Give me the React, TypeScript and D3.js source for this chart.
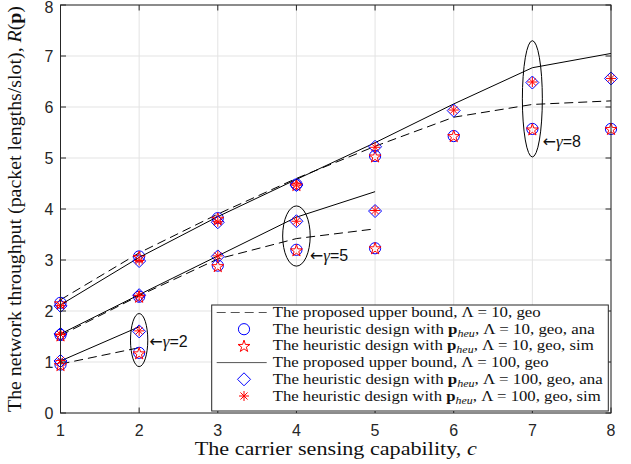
import React from "react";
import * as d3 from "d3";

// ---- data ----
const xTicks = [1, 2, 3, 4, 5, 6, 7, 8];
const yTicks = [0, 1, 2, 3, 4, 5, 6, 7, 8];

const cG2 = [1, 2];
const cG5 = [1, 2, 3, 4, 5];
const cG8 = [1, 2, 3, 4, 5, 6, 7, 8];

// Lambda = 10 (dashed bound, circle = ana, star = sim)
const bound10G2 = [0.96, 1.28];
const ana10G2 = [0.95, 1.18];
const sim10G2 = [0.94, 1.17];
const bound10G5 = [1.52, 2.3, 3.02, 3.42, 3.61];
const ana10G5 = [1.53, 2.28, 2.89, 3.2, 3.23];
const sim10G5 = [1.52, 2.28, 2.88, 3.19, 3.23];
const bound10G8 = [2.22, 3.14, 3.9, 4.6, 5.23, 5.8, 6.05, 6.12];
const ana10G8 = [2.16, 3.07, 3.82, 4.48, 5.04, 5.43, 5.57, 5.57];
const sim10G8 = [2.15, 3.06, 3.81, 4.47, 5.03, 5.43, 5.56, 5.57];

// Lambda = 100 (solid bound, diamond = ana, asterisk = sim)
const bound100G2 = [1.02, 1.69];
const ana100G2 = [1.02, 1.6];
const sim100G2 = [1.03, 1.61];
const bound100G5 = [1.55, 2.32, 3.08, 3.84, 4.34];
const ana100G5 = [1.55, 2.31, 3.07, 3.76, 3.96];
const sim100G5 = [1.54, 2.3, 3.08, 3.76, 3.97];
const bound100G8 = [2.12, 3.05, 3.85, 4.58, 5.3, 6.06, 6.77, 7.05];
const ana100G8 = [2.1, 2.98, 3.74, 4.47, 5.22, 5.93, 6.48, 6.56];
const sim100G8 = [2.11, 2.99, 3.75, 4.47, 5.21, 5.94, 6.49, 6.56];

// annotations (ellipses around the gamma groups)
const annLabels = ["2", "5", "8"];
const annCx = [2, 4, 7];
const annCy = [1.43, 3.47, 6.16];
const annRx = [0.11, 0.175, 0.127];
const annRy = [0.52, 0.59, 1.14];
const annTx = [2.13, 4.17, 7.13];
const annTy = [1.3, 2.98, 5.22];

const W = 631;
const H = 464;
const X0 = 60.5, X1 = 611, Y0 = 413, Y1 = 5;

const x = d3.scaleLinear().domain([1, 8]).range([X0, X1]);
const y = d3.scaleLinear().domain([0, 8]).range([Y0, Y1]);

const BLUE = "#0000ff";
const RED = "#ff0000";
const AX = "#262626";

function starPath(cx: number, cy: number, R: number) {
  const r = R * 0.382;
  const pts: string[] = [];
  for (let i = 0; i < 10; i++) {
    const a = -Math.PI / 2 + (i * Math.PI) / 5;
    const rr = i % 2 === 0 ? R : r;
    pts.push(`${cx + rr * Math.cos(a)},${cy + rr * Math.sin(a)}`);
  }
  return "M" + pts.join("L") + "Z";
}

function Circle({ cx, cy }: { cx: number; cy: number }) {
  return <circle cx={cx} cy={cy} r={5.6} fill="none" stroke={BLUE} strokeWidth={1} />;
}
function Star({ cx, cy }: { cx: number; cy: number }) {
  return <path d={starPath(cx, cy + 0.5, 6.3)} fill="none" stroke={RED} strokeWidth={1} />;
}
function Diamond({ cx, cy }: { cx: number; cy: number }) {
  const s = 6.5;
  return (
    <path
      d={`M${cx},${cy - s}L${cx + s},${cy}L${cx},${cy + s}L${cx - s},${cy}Z`}
      fill="none"
      stroke={BLUE}
      strokeWidth={1}
    />
  );
}
function Asterisk({ cx, cy }: { cx: number; cy: number }) {
  const s = 5;
  const d = s * 0.7071;
  return (
    <path
      d={`M${cx},${cy - s}L${cx},${cy + s}M${cx - s},${cy}L${cx + s},${cy}M${cx - d},${cy - d}L${cx + d},${cy + d}M${cx - d},${cy + d}L${cx + d},${cy - d}`}
      stroke={RED}
      strokeWidth={1}
      fill="none"
    />
  );
}

const line = d3
  .line<[number, number]>()
  .x((d) => x(d[0]))
  .y((d) => y(d[1]));

type Group = {
  c: number[];
  b10: number[];
  a10: number[];
  s10: number[];
  b100: number[];
  a100: number[];
  s100: number[];
};

const groups: Group[] = [
  { c: cG2, b10: bound10G2, a10: ana10G2, s10: sim10G2, b100: bound100G2, a100: ana100G2, s100: sim100G2 },
  { c: cG5, b10: bound10G5, a10: ana10G5, s10: sim10G5, b100: bound100G5, a100: ana100G5, s100: sim100G5 },
  { c: cG8, b10: bound10G8, a10: ana10G8, s10: sim10G8, b100: bound100G8, a100: ana100G8, s100: sim100G8 },
];

const SERIF = "'Liberation Serif', 'Times New Roman', serif";
const SANS = "'Liberation Sans', Arial, sans-serif";

function LegendText({ x0, yb, lam, tail, len }: { x0: number; yb: number; lam: string; tail: string; len: number }) {
  return (
    <text x={x0} y={yb} fontFamily={SERIF} fontSize={14} fill="#111" textLength={len} lengthAdjust="spacingAndGlyphs">
      The heuristic design with <tspan fontWeight="bold">p</tspan>
      <tspan fontStyle="italic" fontSize={10} dy={3}>heu</tspan>
      <tspan dy={-3}>, Λ = {lam}, geo, {tail}</tspan>
    </text>
  );
}

export default function App() {
  const legX = 211.7, legY = 305, legW = 396.6, legH = 106;
  const rowY = [312.5, 329.2, 345.9, 362.6, 379.3, 396];
  const tx = 272.7;
  const mx = 244;

  return (
    <svg width={W} height={H} style={{ position: "absolute", left: 0, top: 0, background: "#fff" }}>
      <rect x={0} y={0} width={W} height={H} fill="#fff" />
      {/* grid */}
      {xTicks.map((t) => (
        <line key={"gx" + t} x1={x(t)} x2={x(t)} y1={Y0} y2={Y1} stroke="#e3e3e3" strokeWidth={1} />
      ))}
      {yTicks.map((t) => (
        <line key={"gy" + t} x1={X0} x2={X1} y1={y(t)} y2={y(t)} stroke="#e3e3e3" strokeWidth={1} />
      ))}

      {/* series */}
      {groups.map((g, gi) => (
        <g key={"g" + gi}>
          <path
            d={line(g.c.map((c, i) => [c, g.b10[i]] as [number, number])) || ""}
            fill="none"
            stroke="#000"
            strokeWidth={1}
            strokeDasharray="9,5"
          />
          {g.c.map((c, i) => (
            <Circle key={"c" + i} cx={x(c)} cy={y(g.a10[i])} />
          ))}
          {g.c.map((c, i) => (
            <Star key={"s" + i} cx={x(c)} cy={y(g.s10[i])} />
          ))}
          <path
            d={line(g.c.map((c, i) => [c, g.b100[i]] as [number, number])) || ""}
            fill="none"
            stroke="#000"
            strokeWidth={1}
          />
          {g.c.map((c, i) => (
            <Diamond key={"d" + i} cx={x(c)} cy={y(g.a100[i])} />
          ))}
          {g.c.map((c, i) => (
            <Asterisk key={"a" + i} cx={x(c)} cy={y(g.s100[i])} />
          ))}
        </g>
      ))}

      {/* annotations */}
      {annLabels.map((lab, i) => (
        <g key={"ann" + i}>
          <ellipse
            cx={x(annCx[i])}
            cy={y(annCy[i])}
            rx={x(annCx[i] + annRx[i]) - x(annCx[i])}
            ry={y(annCy[i]) - y(annCy[i] + annRy[i])}
            fill="none"
            stroke="#000"
            strokeWidth={1}
          />
          <text x={x(annTx[i])} y={y(annTy[i])} fill="#111">
            <tspan fontFamily="'DejaVu Sans', sans-serif" fontSize={16}>←</tspan>
            <tspan fontFamily={SERIF} fontStyle="italic" fontSize={17}>γ</tspan>
            <tspan fontFamily={SANS} fontSize={16}>={lab}</tspan>
          </text>
        </g>
      ))}

      {/* axes box */}
      <rect x={X0} y={Y1} width={X1 - X0} height={Y0 - Y1} fill="none" stroke={AX} strokeWidth={1} />
      {xTicks.map((t) => (
        <g key={"tx" + t}>
          <line x1={x(t)} x2={x(t)} y1={Y0} y2={Y0 - 5.5} stroke={AX} />
          <line x1={x(t)} x2={x(t)} y1={Y1} y2={Y1 + 5.5} stroke={AX} />
          <text x={x(t)} y={436} textAnchor="middle" fontFamily={SANS} fontSize={16} fill={AX}>
            {t}
          </text>
        </g>
      ))}
      {yTicks.map((t) => (
        <g key={"ty" + t}>
          <line x1={X0} x2={X0 + 5.5} y1={y(t)} y2={y(t)} stroke={AX} />
          <line x1={X1} x2={X1 - 5.5} y1={y(t)} y2={y(t)} stroke={AX} />
          <text x={53.5} y={Math.max(y(t) + 5.6, 13)} textAnchor="end" fontFamily={SANS} fontSize={16} fill={AX}>
            {t}
          </text>
        </g>
      ))}

      {/* axis labels */}
      <text
        x={(X0 + X1) / 2}
        y={455}
        textAnchor="middle"
        fontFamily={SERIF}
        fontSize={18}
        fill="#111"
        textLength={282}
        lengthAdjust="spacingAndGlyphs"
      >
        The carrier sensing capability, <tspan fontStyle="italic">c</tspan>
      </text>
      <text
        transform={`translate(21,${(Y0 + Y1) / 2}) rotate(-90)`}
        textAnchor="middle"
        fontFamily={SERIF}
        fontSize={18}
        fill="#111"
        textLength={406}
        lengthAdjust="spacingAndGlyphs"
      >
        The network throughput (packet lengths/slot), <tspan fontStyle="italic">R</tspan>(<tspan fontWeight="bold">p</tspan>)
      </text>

      {/* legend */}
      <rect x={legX} y={legY} width={legW} height={legH} fill="#fff" stroke={AX} strokeWidth={1} />
      <line x1={216.7} x2={266.7} y1={rowY[0]} y2={rowY[0]} stroke="#555" strokeDasharray="9,5" />
      <text x={tx} y={rowY[0] + 4.5} fontFamily={SERIF} fontSize={14} fill="#111" textLength={268} lengthAdjust="spacingAndGlyphs">
        The proposed upper bound, Λ = 10, geo
      </text>
      <Circle cx={mx} cy={rowY[1]} />
      <LegendText x0={tx} yb={rowY[1] + 4.5} lam="10" tail="ana" len={322} />
      <Star cx={mx} cy={rowY[2]} />
      <LegendText x0={tx} yb={rowY[2] + 4.5} lam="10" tail="sim" len={321} />
      <line x1={216.7} x2={266.7} y1={rowY[3]} y2={rowY[3]} stroke="#555" />
      <text x={tx} y={rowY[3] + 4.5} fontFamily={SERIF} fontSize={14} fill="#111" textLength={276} lengthAdjust="spacingAndGlyphs">
        The proposed upper bound, Λ = 100, geo
      </text>
      <Diamond cx={mx} cy={rowY[4]} />
      <LegendText x0={tx} yb={rowY[4] + 4.5} lam="100" tail="ana" len={330} />
      <Asterisk cx={mx} cy={rowY[5]} />
      <LegendText x0={tx} yb={rowY[5] + 4.5} lam="100" tail="sim" len={328} />
    </svg>
  );
}
